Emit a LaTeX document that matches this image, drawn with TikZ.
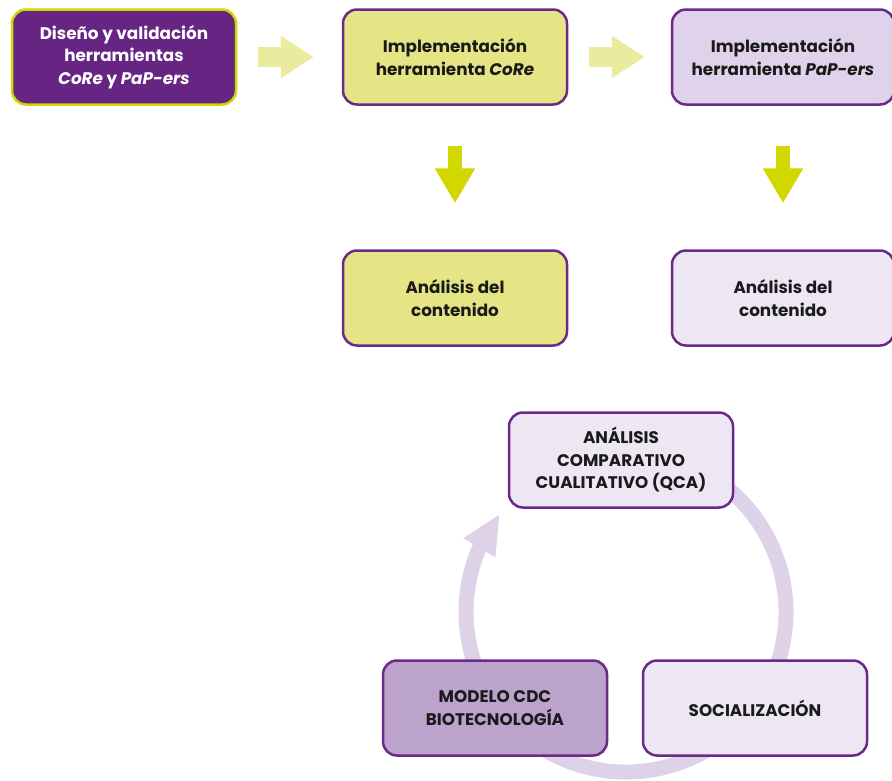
\documentclass[tikz,border=0pt]{standalone}
\usepackage{fontspec}
\setmainfont{Poppins}
\usetikzlibrary{arrows.meta,bending}

\definecolor{moradooscuro}{HTML}{662483}
\definecolor{bordemorado}{HTML}{6A2A8A}
\definecolor{verdelima}{HTML}{D2D700}
\definecolor{amarillopalido}{HTML}{E6E585}
\definecolor{flechapalida}{HTML}{EAEB9E}
\definecolor{lila}{HTML}{DFD2EA}
\definecolor{lilaclaro}{HTML}{EDE6F3}
\definecolor{lilamedio}{HTML}{BBA3CC}
\definecolor{anillo}{HTML}{DED2E9}
\definecolor{texto}{HTML}{1A1A1A}

\begin{document}
\begin{tikzpicture}[x=1pt, y=-1pt]
    \useasboundingbox (0,0) rectangle (892,780);

    % ciclo de fondo
    \coordinate (centro) at (626,612);
    \draw [anillo, line width=15pt, -{Triangle[width=34pt, length=40pt]}]
        (centro) ++(70:160pt) arc[start angle=70, end angle=-218, radius=160pt];

    \begin{scope}[every node/.style={draw=bordemorado, line width=2.5pt, rounded corners=14pt,
            minimum width=224pt, minimum height=95pt, align=center, text=texto,
            font=\fontsize{16.8}{22.5}\selectfont\bfseries}]
        \node (diseno) [fill=moradooscuro, draw=verdelima, text=white] at (124,57)
            {Diseño y validación\\herramientas\\\textit{CoRe} y \textit{PaP-ers}};
        \node (implcore) [fill=amarillopalido] at (455,57) {Implementación\\herramienta \textit{CoRe}};
        \node (implpap) [fill=lila, minimum width=222pt] at (783,57) {Implementación\\herramienta \textit{PaP-ers}};
        \node (analcore) [fill=amarillopalido] at (455,298) {Análisis del\\contenido};
        \node (analpap) [fill=lilaclaro, minimum width=222pt] at (783,298) {Análisis del\\contenido};
        \node (qca) [fill=lilaclaro] at (621,460) {ANÁLISIS\\COMPARATIVO\\CUALITATIVO (QCA)};
        \node (modelo) [fill=lilamedio] at (495,708) {MODELO CDC\\BIOTECNOLOGÍA};
        \node (social) [fill=lilaclaro] at (755,708) {SOCIALIZACIÓN};
    \end{scope}

    \begin{scope}[every path/.style={line width=20pt, flechapalida}]
        \draw [-{Triangle[width=40pt, length=33pt]}, shorten <=21pt, shorten >=28pt] (diseno) -- (implcore);
        \draw [-{Triangle[width=40pt, length=33pt]}, shorten <=21pt, shorten >=26pt] (implcore) -- (implpap);
    \end{scope}

    \begin{scope}[every path/.style={line width=14pt, verdelima}]
        \draw [-{Triangle[width=38pt, length=35pt]}, shorten <=40pt, shorten >=46pt] (implcore) -- (analcore);
        \draw [-{Triangle[width=38pt, length=35pt]}, shorten <=40pt, shorten >=46pt] (implpap) -- (analpap);
    \end{scope}
\end{tikzpicture}
\end{document}
